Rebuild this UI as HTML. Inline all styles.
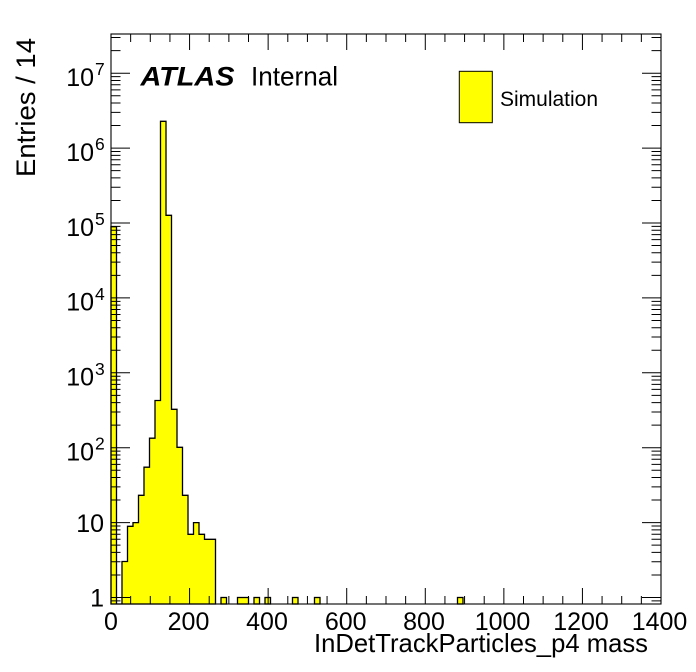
<!DOCTYPE html>
<html>
<head>
<meta charset="utf-8">
<style>
html,body{margin:0;padding:0;background:#fff;}
svg{display:block;}
text{font-family:"Liberation Sans",Arial,Helvetica,sans-serif;fill:#000;}
</style>
</head>
<body>
<svg width="696" height="672" viewBox="0 0 696 672" xmlns="http://www.w3.org/2000/svg">
<rect x="0" y="0" width="696" height="672" fill="#fff"/>

<!-- histogram -->
<path d="M111,604 V226.7 H116.5 V604 H122 V561.5 H127.5 V526.3 H133 V522.6 H138.5 V495.3 H144 V467.2 H149.5 V438.2 H155 V400.5 H160.5 V121.3 H166 V215.3 H171.5 V409.3 H177 V447.3 H182.5 V495.3 H188 V534.3 H193.5 V522.6 H199 V534.3 H204.5 V539.3 H215.5 V604 Z" fill="#ffff00" stroke="#000" stroke-width="1.3"/>
<g fill="#ffff00" stroke="#000" stroke-width="1.3">
<rect x="221" y="597.5" width="5.5" height="6.5"/>
<rect x="237.5" y="597.5" width="11" height="6.5"/>
<rect x="254" y="597.5" width="5.5" height="6.5"/>
<rect x="265" y="597.5" width="5.5" height="6.5"/>
<rect x="292.5" y="597.5" width="5.5" height="6.5"/>
<rect x="314.5" y="597.5" width="5.5" height="6.5"/>
<rect x="457.5" y="597.5" width="5.5" height="6.5"/>
</g>

<!-- frame -->
<rect x="111" y="34" width="550" height="570" fill="none" stroke="#000" stroke-width="1.1"/>

<!-- x ticks bottom & top -->
<g stroke="#000" stroke-width="1">
<path d="M111,604V588M130.64,604V596M150.29,604V596M169.93,604V596M189.57,604V588M209.21,604V596M228.86,604V596M248.5,604V596M268.14,604V588M287.79,604V596M307.43,604V596M327.07,604V596M346.71,604V588M366.36,604V596M386,604V596M405.64,604V596M425.29,604V588M444.93,604V596M464.57,604V596M484.21,604V596M503.86,604V588M523.5,604V596M543.14,604V596M562.79,604V596M582.43,604V588M602.07,604V596M621.71,604V596M641.36,604V596M661,604V588"/>
<path d="M111,34V50M130.64,34V42M150.29,34V42M169.93,34V42M189.57,34V50M209.21,34V42M228.86,34V42M248.5,34V42M268.14,34V50M287.79,34V42M307.43,34V42M327.07,34V42M346.71,34V50M366.36,34V42M386,34V42M405.64,34V42M425.29,34V50M444.93,34V42M464.57,34V42M484.21,34V42M503.86,34V50M523.5,34V42M543.14,34V42M562.79,34V42M582.43,34V50M602.07,34V42M621.71,34V42M641.36,34V42M661,34V50"/>
</g>

<!-- y ticks left -->
<g stroke="#000" stroke-width="1">
<path d="M111,600.9H120.5
M111,597.5H130
M111,574.95H120.5M111,561.76H120.5M111,552.41H120.5M111,545.15H120.5M111,539.22H120.5M111,534.2H120.5M111,529.86H120.5M111,526.03H120.5
M111,522.6H130
M111,500.05H120.5M111,486.86H120.5M111,477.51H120.5M111,470.25H120.5M111,464.32H120.5M111,459.3H120.5M111,454.96H120.5M111,451.13H120.5
M111,447.7H130
M111,425.15H120.5M111,411.96H120.5M111,402.61H120.5M111,395.35H120.5M111,389.42H120.5M111,384.4H120.5M111,380.06H120.5M111,376.23H120.5
M111,372.8H130
M111,350.25H120.5M111,337.06H120.5M111,327.71H120.5M111,320.45H120.5M111,314.52H120.5M111,309.5H120.5M111,305.16H120.5M111,301.33H120.5
M111,297.9H130
M111,275.35H120.5M111,262.16H120.5M111,252.81H120.5M111,245.55H120.5M111,239.62H120.5M111,234.6H120.5M111,230.26H120.5M111,226.43H120.5
M111,223H130
M111,200.45H120.5M111,187.26H120.5M111,177.91H120.5M111,170.65H120.5M111,164.72H120.5M111,159.7H120.5M111,155.36H120.5M111,151.53H120.5
M111,148.1H130
M111,125.55H120.5M111,112.36H120.5M111,103.01H120.5M111,95.75H120.5M111,89.82H120.5M111,84.8H120.5M111,80.46H120.5M111,76.63H120.5
M111,73.2H130
M111,50.65H120.5M111,37.46H120.5"/>
<path d="M661,600.9H651.5
M661,597.5H642
M661,574.95H651.5M661,561.76H651.5M661,552.41H651.5M661,545.15H651.5M661,539.22H651.5M661,534.2H651.5M661,529.86H651.5M661,526.03H651.5
M661,522.6H642
M661,500.05H651.5M661,486.86H651.5M661,477.51H651.5M661,470.25H651.5M661,464.32H651.5M661,459.3H651.5M661,454.96H651.5M661,451.13H651.5
M661,447.7H642
M661,425.15H651.5M661,411.96H651.5M661,402.61H651.5M661,395.35H651.5M661,389.42H651.5M661,384.4H651.5M661,380.06H651.5M661,376.23H651.5
M661,372.8H642
M661,350.25H651.5M661,337.06H651.5M661,327.71H651.5M661,320.45H651.5M661,314.52H651.5M661,309.5H651.5M661,305.16H651.5M661,301.33H651.5
M661,297.9H642
M661,275.35H651.5M661,262.16H651.5M661,252.81H651.5M661,245.55H651.5M661,239.62H651.5M661,234.6H651.5M661,230.26H651.5M661,226.43H651.5
M661,223H642
M661,200.45H651.5M661,187.26H651.5M661,177.91H651.5M661,170.65H651.5M661,164.72H651.5M661,159.7H651.5M661,155.36H651.5M661,151.53H651.5
M661,148.1H642
M661,125.55H651.5M661,112.36H651.5M661,103.01H651.5M661,95.75H651.5M661,89.82H651.5M661,84.8H651.5M661,80.46H651.5M661,76.63H651.5
M661,73.2H642
M661,50.65H651.5M661,37.46H651.5"/>
</g>

<!-- x tick labels -->
<g font-size="25" text-anchor="middle">
<text x="111" y="630">0</text>
<text x="188.5" y="630">200</text>
<text x="267" y="630">400</text>
<text x="345.7" y="630">600</text>
<text x="424" y="630">800</text>
<text x="502.5" y="630">1000</text>
<text x="581" y="630">1200</text>
<text x="659.5" y="630">1400</text>
</g>

<!-- y tick labels -->
<g font-size="25" text-anchor="end">
<text x="104" y="606.5">1</text>
<text x="104" y="531.8">10</text>
<text x="94" y="460.5">10</text>
<text x="94" y="385.6">10</text>
<text x="94" y="310.7">10</text>
<text x="94" y="235.8">10</text>
<text x="94" y="160.9">10</text>
<text x="94" y="86">10</text>
</g>
<g font-size="17.5">
<text x="95" y="449.7">2</text>
<text x="95" y="374.8">3</text>
<text x="95" y="299.9">4</text>
<text x="95" y="225">5</text>
<text x="95" y="150.1">6</text>
<text x="95" y="75.2">7</text>
</g>

<!-- axis titles -->
<text x="314" y="652" font-size="26" textLength="334" lengthAdjust="spacingAndGlyphs">InDetTrackParticles_p4 mass</text>
<text transform="translate(35,38) rotate(-90)" font-size="27" text-anchor="end" textLength="139" lengthAdjust="spacingAndGlyphs">Entries / 14</text>

<!-- ATLAS label -->
<text x="140.5" y="85.5" font-size="27" font-weight="bold" font-style="italic" textLength="94" lengthAdjust="spacingAndGlyphs">ATLAS</text>
<text x="251" y="85.5" font-size="27" textLength="87" lengthAdjust="spacingAndGlyphs">Internal</text>

<!-- legend -->
<rect x="459.3" y="71.3" width="33" height="51.4" fill="#ffff00" stroke="#000" stroke-width="1"/>
<text x="500" y="106" font-size="21" textLength="98" lengthAdjust="spacingAndGlyphs">Simulation</text>
</svg>
</body>
</html>
